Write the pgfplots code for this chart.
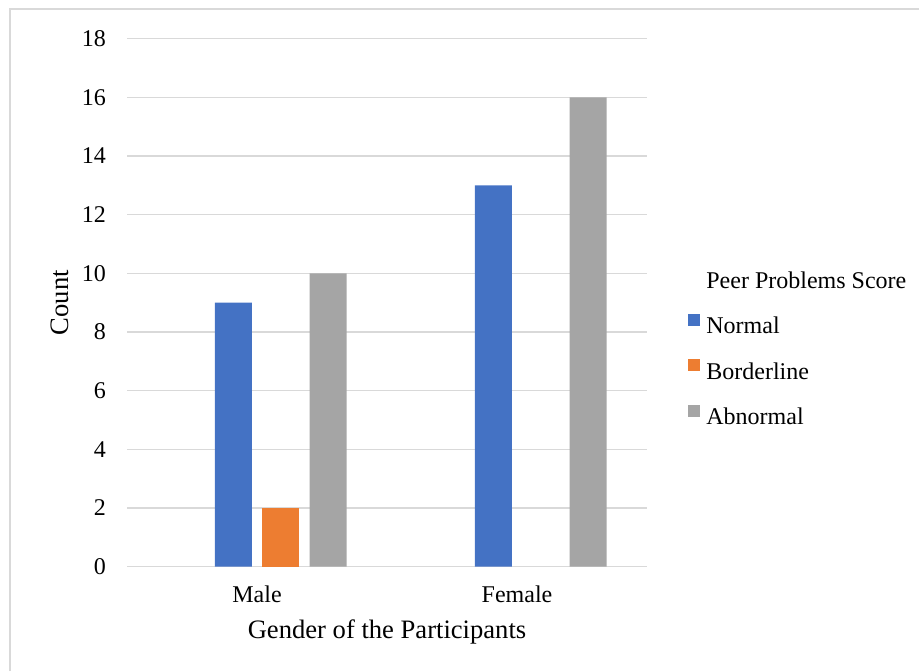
\documentclass[border=0pt]{standalone}
\usepackage{fontspec}
\setmainfont{Liberation Serif}
\usepackage{pgfplots}
\pgfplotsset{compat=1.18}
\definecolor{cNormal}{HTML}{4472C4}
\definecolor{cBorder}{HTML}{ED7D31}
\definecolor{cAbn}{HTML}{A5A5A5}
\definecolor{gridgray}{HTML}{D9D9D9}

\begin{document}
\begin{tikzpicture}
\useasboundingbox (0,0) rectangle (459.5pt,335.5pt);
% chart frame (top and left edges)
\draw[gridgray, line width=0.75pt] (5pt,0) -- (5pt,331pt) -- (459.5pt,331pt);
\begin{axis}[
  at={(63.5pt,52.15pt)}, anchor=south west,
  scale only axis, width=260pt, height=264pt,
  xmin=-0.5, xmax=1.5, ymin=0, ymax=18,
  ytick={0,2,...,18},
  xtick={0,1}, xticklabels={Male,Female},
  axis line style={draw=none},
  major tick length=0pt,
  ymajorgrids, grid style={gridgray, line width=0.75pt},
  ybar, bar width=0.1423,
  /pgf/number format/assume math mode=true,
  tick label style={font=\fontsize{12}{14}\selectfont},
  yticklabel style={anchor=east, xshift=-7pt},
  xticklabel style={anchor=base, yshift=-18pt},
  xlabel={Gender of the Participants},
  ylabel={Count},
  label style={font=\fontsize{13.3}{15}\selectfont},
  xlabel style={at={(axis description cs:0.5,-0.1231)}, anchor=center},
  ylabel style={at={(axis description cs:-0.1288,0.5)}, anchor=center, rotate=0},
  legend image code/.code={\fill[#1] (0pt,1pt) rectangle (6pt,7pt);},
  legend cell align=left,
  legend style={draw=none, fill=none,
    at={(axis description cs:1.0788,0.5600)}, anchor=north west,
    inner sep=0pt, row sep=10.25pt, column sep=3pt,
    nodes={inner sep=0pt, text height=8.5pt, text depth=2.5pt},
    font=\fontsize{12}{14}\selectfont},
]
\addlegendimage{empty legend}
% Female borderline count is 0, so only the male bar is drawn
\addplot[fill=cNormal, draw=none, bar shift=-0.0913] coordinates {(0,9) (1,13)};
\addplot[fill=cBorder, draw=none, bar shift=0.0913] coordinates {(0,2)};
\addplot[fill=cAbn, draw=none, bar shift=0.2740] coordinates {(0,10) (1,16)};
\legend{Peer Problems Score, Normal, Borderline, Abnormal}
\end{axis}
\end{tikzpicture}
\end{document}
